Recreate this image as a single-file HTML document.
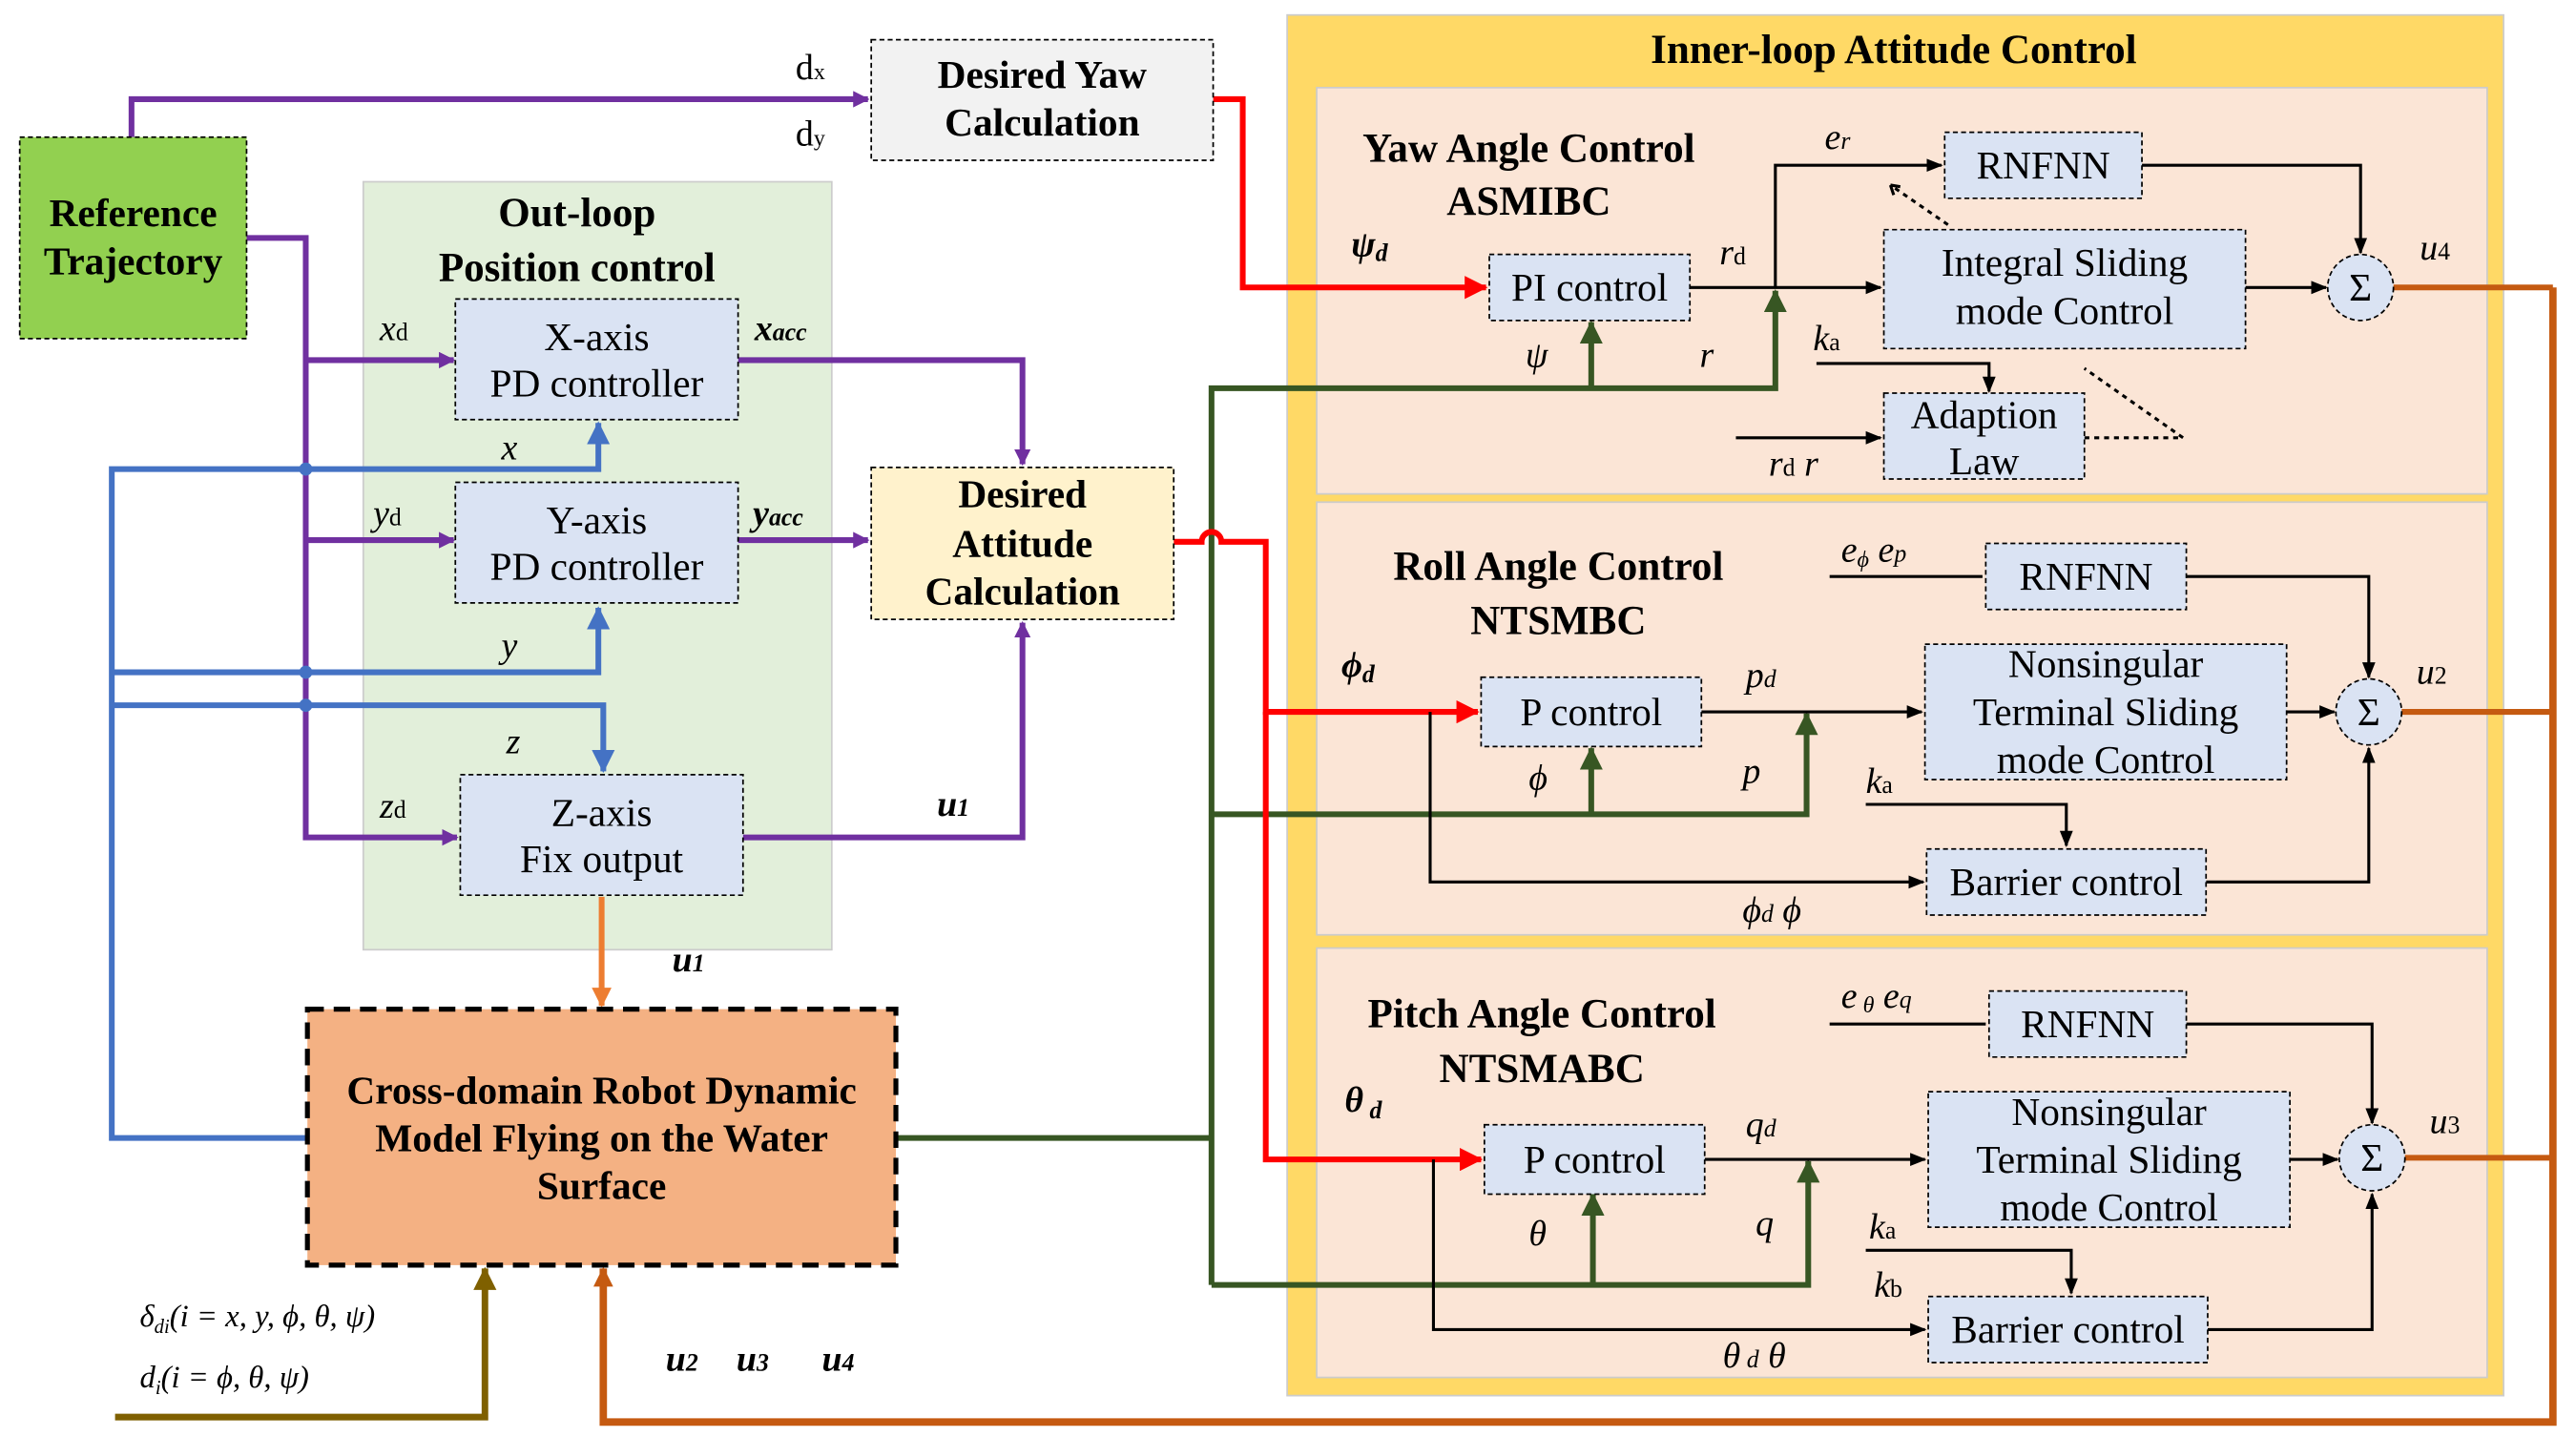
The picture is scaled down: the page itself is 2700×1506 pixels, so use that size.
<!DOCTYPE html>
<html><head><meta charset="utf-8"><style>
html,body{margin:0;padding:0;background:#fff}
svg{display:block}
text{font-family:"Liberation Serif",serif;fill:#000}
.b{font-weight:bold}
.i{font-style:italic}
</style></head><body>
<svg width="2700" height="1506" viewBox="0 0 1560 870" xmlns="http://www.w3.org/2000/svg">
<defs>
<marker id="ap" markerWidth="10" markerHeight="10" refX="9" refY="5" orient="auto" markerUnits="userSpaceOnUse" viewBox="0 0 10 10"><path d="M0,0 L10,5 L0,10z" fill="#7030a0"/></marker>
<marker id="ab" markerWidth="14" markerHeight="14" refX="13" refY="7" orient="auto" markerUnits="userSpaceOnUse" viewBox="0 0 14 14"><path d="M0,0 L14,7 L0,14z" fill="#4472c4"/></marker>
<marker id="ag" markerWidth="14" markerHeight="14" refX="13" refY="7" orient="auto" markerUnits="userSpaceOnUse" viewBox="0 0 14 14"><path d="M0,0 L14,7 L0,14z" fill="#375623"/></marker>
<marker id="ar" markerWidth="14" markerHeight="14" refX="13" refY="7" orient="auto" markerUnits="userSpaceOnUse" viewBox="0 0 14 14"><path d="M0,0 L14,7 L0,14z" fill="#ff0000"/></marker>
<marker id="ak" markerWidth="10" markerHeight="10" refX="9" refY="5" orient="auto" markerUnits="userSpaceOnUse" viewBox="0 0 10 10"><path d="M0,1 L10,5 L0,9z" fill="#000"/></marker>
<marker id="ao" markerWidth="12" markerHeight="12" refX="11" refY="6" orient="auto" markerUnits="userSpaceOnUse" viewBox="0 0 12 12"><path d="M0,0 L12,6 L0,12z" fill="#ed7d31"/></marker>
<marker id="ac" markerWidth="12" markerHeight="12" refX="11" refY="6" orient="auto" markerUnits="userSpaceOnUse" viewBox="0 0 12 12"><path d="M0,0 L12,6 L0,12z" fill="#c55a11"/></marker>
<marker id="al" markerWidth="14" markerHeight="14" refX="13" refY="7" orient="auto" markerUnits="userSpaceOnUse" viewBox="0 0 14 14"><path d="M0,0 L14,7 L0,14z" fill="#7f6000"/></marker>
</defs>
<g transform="scale(0.9955,1)">
<rect x="783" y="9" width="740" height="836" fill="#ffd966" stroke="#ccc"/>
<rect x="801" y="53" width="712" height="246" fill="#fbe5d6" stroke="#ccc"/>
<rect x="801" y="304" width="712" height="262" fill="#fbe5d6" stroke="#ccc"/>
<rect x="801" y="574" width="712" height="260" fill="#fbe5d6" stroke="#ccc"/>
<rect x="221" y="110" width="285" height="465" fill="#e2efda" stroke="#ccc"/>

<text x="1152" y="38" font-size="25" class="b" text-anchor="middle">Inner-loop Attitude Control</text>
<text x="930" y="98" font-size="25" class="b" text-anchor="middle">Yaw Angle Control</text>
<text x="930" y="130" font-size="25" class="b" text-anchor="middle">ASMIBC</text>
<text x="948" y="351" font-size="25" class="b" text-anchor="middle">Roll Angle Control</text>
<text x="948" y="384" font-size="25" class="b" text-anchor="middle">NTSMBC</text>
<text x="938" y="622" font-size="25" class="b" text-anchor="middle">Pitch Angle Control</text>
<text x="938" y="655" font-size="25" class="b" text-anchor="middle">NTSMABC</text>
<text x="351" y="137" font-size="25" class="b" text-anchor="middle">Out-loop</text>
<text x="351" y="170" font-size="25" class="b" text-anchor="middle">Position control</text>

<g stroke="#4472c4" stroke-width="3.5" fill="none">
<path d="M187,689 H68 V284 H364 V256" marker-end="url(#ab)"/>
<path d="M68,407 H364 V368" marker-end="url(#ab)"/>
<path d="M68,427 H367 V467" marker-end="url(#ab)"/>
</g>
<g stroke="#7030a0" stroke-width="3.5" fill="none">
<path d="M80,83 V60 H528" marker-end="url(#ap)"/>
<path d="M150,144 H186 V507 H278" marker-end="url(#ap)"/>
<path d="M186,218 H276" marker-end="url(#ap)"/>
<path d="M186,327 H276" marker-end="url(#ap)"/>
<path d="M449,218 H622 V281" marker-end="url(#ap)"/>
<path d="M449,327 H528" marker-end="url(#ap)"/>
<path d="M452,507 H622 V377" marker-end="url(#ap)"/>
</g>
<circle cx="186" cy="284" r="4" fill="#4472c4"/><circle cx="186" cy="407" r="4" fill="#4472c4"/><circle cx="186" cy="427" r="4" fill="#4472c4"/>

<g stroke="#375623" stroke-width="3.5" fill="none">
<path d="M545,689 H737"/>
<path d="M737,778 V235 H1080 V176" marker-end="url(#ag)"/>
<path d="M968,235 V195" marker-end="url(#ag)"/>
<path d="M737,493 H1099 V432" marker-end="url(#ag)"/>
<path d="M968,493 V453" marker-end="url(#ag)"/>
<path d="M737,778 H1100 V703" marker-end="url(#ag)"/>
<path d="M969,778 V723" marker-end="url(#ag)"/>
</g>
<g stroke="#ff0000" stroke-width="3.5" fill="none">
<path d="M738,60 H756 V174 H904" marker-end="url(#ar)"/>
<path d="M714,328 H731 A6,6 0 0 1 743,328 H770 V431 H899" marker-end="url(#ar)"/>
<path d="M770,431 V702 H901" marker-end="url(#ar)"/>
</g>
<path d="M366,543 V609" stroke="#ed7d31" stroke-width="3.5" fill="none" marker-end="url(#ao)"/>
<g stroke="#c55a11" stroke-width="3.5" fill="none">
<path d="M1456,174 H1553"/>
<path d="M1461,431 H1553"/>
<path d="M1463,701 H1553"/>
<path d="M1553,174 V861 H367 V768" stroke-width="4.5" marker-end="url(#ac)"/>
</g>
<path d="M70,858 H295 V768" stroke="#7f6000" stroke-width="4" fill="none" marker-end="url(#al)"/>

<g stroke="#000" stroke-width="1.8" fill="none">
<path d="M1028,174 H1144" marker-end="url(#ak)"/>
<path d="M1080,174 V100 H1181" marker-end="url(#ak)"/>
<path d="M1303,100 H1436 V153" marker-end="url(#ak)"/>
<path d="M1366,174 H1415" marker-end="url(#ak)"/>
<path d="M1105,220 H1210 V237" marker-end="url(#ak)"/>
<path d="M1056,265 H1144" marker-end="url(#ak)"/>
<path d="M1268,265 L1328,265 L1268,223 M1185,136 L1150,112" stroke-dasharray="3,3"/>
<path d="M1150,112 l6,1 M1150,112 l2,6"/>
<path d="M1113,349 H1206" />
<path d="M1330,349 H1441 V410" marker-end="url(#ak)"/>
<path d="M1035,431 H1169" marker-end="url(#ak)"/>
<path d="M1391,431 H1420" marker-end="url(#ak)"/>
<path d="M870,431 V534 H1170" marker-end="url(#ak)"/>
<path d="M1135,487 H1257 V512" marker-end="url(#ak)"/>
<path d="M1342,534 H1441 V453" marker-end="url(#ak)"/>
<path d="M1113,620 H1208"/>
<path d="M1330,620 H1443 V680" marker-end="url(#ak)"/>
<path d="M1037,702 H1171" marker-end="url(#ak)"/>
<path d="M1393,702 H1422" marker-end="url(#ak)"/>
<path d="M872,702 V805 H1171" marker-end="url(#ak)"/>
<path d="M1135,757 H1260 V783" marker-end="url(#ak)"/>
<path d="M1343,805 H1443 V723" marker-end="url(#ak)"/>
</g>

<g stroke="#000" stroke-width="1" stroke-dasharray="3,2">
<rect x="12" y="83" width="138" height="122" fill="#92d050"/>
<rect x="530" y="24" width="208" height="73" fill="#f2f2f2"/>
<rect x="277" y="181" width="172" height="73" fill="#dae3f3"/>
<rect x="277" y="292" width="172" height="73" fill="#dae3f3"/>
<rect x="280" y="469" width="172" height="73" fill="#dae3f3"/>
<rect x="530" y="283" width="184" height="92" fill="#fff2cc"/>
<rect x="906" y="154" width="122" height="40" fill="#dae3f3"/>
<rect x="1183" y="80" width="120" height="40" fill="#dae3f3"/>
<rect x="1146" y="139" width="220" height="72" fill="#dae3f3"/>
<rect x="1146" y="238" width="122" height="52" fill="#dae3f3"/>
<rect x="1208" y="329" width="122" height="40" fill="#dae3f3"/>
<rect x="901" y="410" width="134" height="42" fill="#dae3f3"/>
<rect x="1171" y="390" width="220" height="82" fill="#dae3f3"/>
<rect x="1172" y="514" width="170" height="40" fill="#dae3f3"/>
<rect x="1210" y="600" width="120" height="40" fill="#dae3f3"/>
<rect x="903" y="681" width="134" height="42" fill="#dae3f3"/>
<rect x="1173" y="661" width="220" height="82" fill="#dae3f3"/>
<rect x="1173" y="785" width="170" height="40" fill="#dae3f3"/>
<circle cx="1436" cy="174" r="20" fill="#dae3f3"/>
<circle cx="1441" cy="431" r="20" fill="#dae3f3"/>
<circle cx="1443" cy="701" r="20" fill="#dae3f3"/>
</g>
<rect x="187" y="611" width="358" height="155" fill="#f4b183" stroke="#000" stroke-width="3" stroke-dasharray="10,6"/>

<g font-size="24" text-anchor="middle">
<text x="81" y="137" class="b">Reference</text><text x="81" y="166" class="b">Trajectory</text>
<text x="634" y="53" class="b">Desired Yaw</text><text x="634" y="82" class="b">Calculation</text>
<text x="363" y="212">X-axis</text><text x="363" y="240">PD controller</text>
<text x="363" y="323">Y-axis</text><text x="363" y="351">PD controller</text>
<text x="366" y="500">Z-axis</text><text x="366" y="528">Fix output</text>
<text x="622" y="307" class="b">Desired</text><text x="622" y="337" class="b">Attitude</text><text x="622" y="366" class="b">Calculation</text>
<text x="366" y="668" class="b">Cross-domain Robot Dynamic</text><text x="366" y="697" class="b">Model  Flying on the Water</text><text x="366" y="726" class="b">Surface</text>
<text x="967" y="182">PI control</text>
<text x="1243" y="108">RNFNN</text>
<text x="1256" y="167">Integral Sliding</text><text x="1256" y="196">mode Control</text>
<text x="1207" y="259">Adaption</text><text x="1207" y="287">Law</text>
<text x="1269" y="357">RNFNN</text>
<text x="968" y="439">P control</text>
<text x="1281" y="410">Nonsingular</text><text x="1281" y="439">Terminal Sliding</text><text x="1281" y="468">mode Control</text>
<text x="1257" y="542">Barrier control</text>
<text x="1270" y="628">RNFNN</text>
<text x="970" y="710">P control</text>
<text x="1283" y="681">Nonsingular</text><text x="1283" y="710">Terminal Sliding</text><text x="1283" y="739">mode Control</text>
<text x="1258" y="813">Barrier control</text>
<text x="1436" y="182">Σ</text><text x="1441" y="439">Σ</text><text x="1443" y="709">Σ</text>
</g>

<g font-size="22">
<text x="484" y="48">d<tspan font-size="14">x</tspan></text>
<text x="484" y="88">d<tspan font-size="14">y</tspan></text>
<text x="231" y="206" class="i">x<tspan font-size="15" font-style="normal">d</tspan></text>
<text x="459" y="206" class="i b">x<tspan font-size="15">acc</tspan></text>
<text x="305" y="278" class="i">x</text>
<text x="227" y="318" class="i">y<tspan font-size="15" font-style="normal">d</tspan></text>
<text x="458" y="318" class="i b">y<tspan font-size="15">acc</tspan></text>
<text x="305" y="398" class="i">y</text>
<text x="308" y="456" class="i">z</text>
<text x="231" y="495" class="i">z<tspan font-size="15" font-style="normal">d</tspan></text>
<text x="570" y="494" class="i b">u<tspan font-size="15">1</tspan></text>
<text x="409" y="588" class="i b">u<tspan font-size="15">1</tspan></text>
<text x="405" y="830" class="i b">u<tspan font-size="15">2</tspan></text>
<text x="448" y="830" class="i b">u<tspan font-size="15">3</tspan></text>
<text x="500" y="830" class="i b">u<tspan font-size="15">4</tspan></text>
<text x="85" y="803" class="i" font-size="19">δ<tspan font-size="12" dy="4">di</tspan><tspan dy="-4">(i = x, y, ϕ, θ, ψ)</tspan></text>
<text x="85" y="840" class="i" font-size="19">d<tspan font-size="12" dy="4">i</tspan><tspan dy="-4">(i = ϕ, θ, ψ)</tspan></text>
<text x="822" y="155" class="i b">ψ<tspan font-size="15" dy="3">d</tspan></text>
<text x="928" y="222" class="i">ψ</text>
<text x="1034" y="222" class="i">r</text>
<text x="1046" y="160" class="i">r<tspan font-size="15" font-style="normal">d</tspan></text>
<text x="1110" y="90" class="i">e<tspan font-size="15">r</tspan></text>
<text x="1103" y="212" class="i">k<tspan font-size="15" font-style="normal">a</tspan></text>
<text x="1076" y="288" class="i">r<tspan font-size="15" font-style="normal">d</tspan>  r</text>
<text x="1472" y="157" class="i">u<tspan font-size="15" font-style="normal">4</tspan></text>
<text x="816" y="410" class="i b">ϕ<tspan font-size="15" dy="3">d</tspan></text>
<text x="1120" y="340" class="i">e<tspan font-size="14" dy="3">ϕ</tspan><tspan dy="-3">   e</tspan><tspan font-size="15">p</tspan></text>
<text x="1062" y="416" class="i">p<tspan font-size="15">d</tspan></text>
<text x="930" y="478" class="i">ϕ</text>
<text x="1060" y="474" class="i">p</text>
<text x="1135" y="480" class="i">k<tspan font-size="15" font-style="normal">a</tspan></text>
<text x="1060" y="558" class="i">ϕ<tspan font-size="15">d</tspan>    ϕ</text>
<text x="1470" y="414" class="i">u<tspan font-size="15" font-style="normal">2</tspan></text>
<text x="818" y="673" class="i b">θ<tspan font-size="15" dy="4"> d</tspan></text>
<text x="1120" y="610" class="i">e<tspan font-size="14" dy="3"> θ</tspan><tspan dy="-3">  e</tspan><tspan font-size="15">q</tspan></text>
<text x="1062" y="688" class="i">q<tspan font-size="15">d</tspan></text>
<text x="930" y="754" class="i">θ</text>
<text x="1068" y="748" class="i">q</text>
<text x="1137" y="750" class="i">k<tspan font-size="15" font-style="normal">a</tspan></text>
<text x="1140" y="785" class="i">k<tspan font-size="15" font-style="normal">b</tspan></text>
<text x="1048" y="828" class="i">θ<tspan font-size="15"> d</tspan>    θ</text>
<text x="1478" y="686" class="i">u<tspan font-size="15" font-style="normal">3</tspan></text>
</g>
</g>
</svg>
</body></html>
